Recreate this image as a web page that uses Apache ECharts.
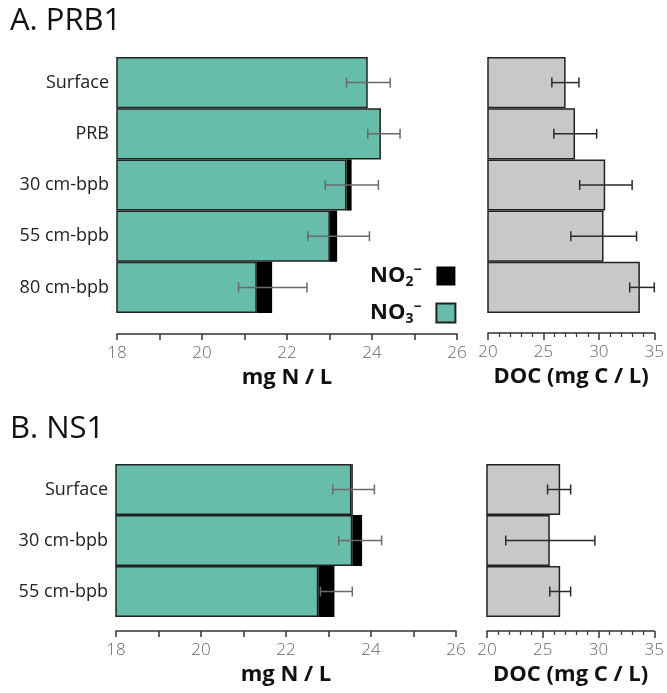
<!DOCTYPE html>
<html><head><meta charset="utf-8">
<script src="https://cdn.jsdelivr.net/npm/echarts@6/dist/echarts.min.js"></script>
<style>html,body{margin:0;padding:0;background:#fff}#c{width:667px;height:693px}</style>
</head><body><div id="c"></div>
<script>
// ---- Data ----
const catsA = ['Surface', 'PRB', '30 cm-bpb', '55 cm-bpb', '80 cm-bpb'];
const no3A = [23.90, 24.21, 23.40, 23.01, 21.29];
const no2A = [0.00, 0.00, 0.12, 0.17, 0.36];
const nLowA = [23.40, 23.90, 22.90, 22.49, 20.86];
const nHighA = [24.43, 24.66, 24.15, 23.94, 22.47];
const docA = [27.00, 27.85, 30.57, 30.42, 33.70];
const docLowA = [25.76, 25.94, 28.27, 27.47, 32.78];
const docHighA = [28.20, 29.80, 33.00, 33.40, 35.00];

const catsB = ['Surface', '30 cm-bpb', '55 cm-bpb'];
const no3B = [23.54, 23.56, 22.76];
const no2B = [0.03, 0.23, 0.38];
const nLowB = [23.10, 23.24, 22.81];
const nHighB = [24.08, 24.25, 23.56];
const docB = [26.56, 25.63, 26.56];
const docLowB = [25.43, 21.68, 25.63];
const docHighB = [27.50, 29.67, 27.50];

const nTicks = { min: 18, max: 26, interval: 2 };
const docTicks = { min: 20, max: 35, interval: 5 };

// ---- Styles ----
const FONT = 'Open Sans';
const TEAL = '#66bdaa';
const GRAY = '#c8c8c8';
const EDGE = '#222';

const chart = echarts.init(document.getElementById('c'), null, { renderer: 'canvas' });

function errRender(color) {
  return function (params, api) {
    const lo = api.coord([api.value(0), api.value(2)]);
    const hi = api.coord([api.value(1), api.value(2)]);
    const y = lo[1], h = 5;
    const st = { stroke: color, lineWidth: 1.5 };
    return {
      type: 'group',
      children: [
        { type: 'line', shape: { x1: lo[0], y1: y, x2: hi[0], y2: y }, style: st },
        { type: 'line', shape: { x1: lo[0], y1: y - h, x2: lo[0], y2: y + h }, style: st },
        { type: 'line', shape: { x1: hi[0], y1: y - h, x2: hi[0], y2: y + h }, style: st }
      ]
    };
  };
}
function errData(lo, hi) { return lo.map((v, i) => [v, hi[i], i]); }

const nameStyle = { fontFamily: FONT, fontSize: 22, fontWeight: 'bold', color: '#111' };
const tickLabel = { fontFamily: FONT, fontSize: 17, fontWeight: 300, color: '#666', margin: 11 };

function xAxisN(gridIndex, offset, name) {
  return {
    type: 'value', gridIndex, position: 'bottom', offset,
    min: nTicks.min, max: nTicks.max, interval: nTicks.interval,
    name, nameLocation: 'middle', nameGap: 33,
    nameTextStyle: nameStyle,
    axisLine: { show: true, lineStyle: { color: '#333', width: 1.5 } },
    axisTick: { show: true, inside: false, length: 6, lineStyle: { color: '#333', width: 1.5 } },
    minorTick: { show: true, splitNumber: 2, length: 6, lineStyle: { color: '#333', width: 1.5 } },
    axisLabel: tickLabel,
    splitLine: { show: false }, minorSplitLine: { show: false }
  };
}
function xAxisDoc(gridIndex, offset, name) {
  return {
    type: 'value', gridIndex, position: 'bottom', offset,
    min: docTicks.min, max: docTicks.max, interval: docTicks.interval,
    name, nameLocation: 'middle', nameGap: 33,
    nameTextStyle: nameStyle,
    axisLine: { show: true, lineStyle: { color: '#333', width: 1.5 } },
    axisTick: { show: true, inside: false, length: 7, lineStyle: { color: '#333', width: 1.5 } },
    minorTick: { show: true, splitNumber: 5, length: 4, lineStyle: { color: '#333', width: 1.2 } },
    axisLabel: tickLabel,
    splitLine: { show: false }, minorSplitLine: { show: false }
  };
}
function yAxisCat(gridIndex, data, showLabel) {
  return {
    type: 'category', gridIndex, data, inverse: true,
    axisLine: { show: false }, axisTick: { show: false },
    axisLabel: { show: showLabel, fontFamily: FONT, fontSize: 18, color: '#222', margin: 8 }
  };
}
const barBase = { type: 'bar', barCategoryGap: '0%' };

const option = {
  animation: false,
  backgroundColor: '#fff',
  title: [
    { text: 'A. PRB1', left: 5, top: 1, textStyle: { fontFamily: FONT, fontSize: 31, fontWeight: 'normal', color: '#111' } },
    { text: 'B. NS1', left: 5, top: 409, textStyle: { fontFamily: FONT, fontSize: 31, fontWeight: 'normal', color: '#111' } }
  ],
  legend: {
    orient: 'vertical', left: 365, top: 258, align: 'right', itemGap: 11,
    itemWidth: 19, itemHeight: 19, icon: 'rect',
    data: ['NO2', 'NO3'],
    formatter: function (n) { return '{a|NO}{b|' + n.slice(2) + '}{c|−}{s|}'; },
    textStyle: {
      rich: {
        a: { fontFamily: FONT, fontSize: 22, fontWeight: 'bold', color: '#111', lineHeight: 26 },
        b: { fontFamily: FONT, fontSize: 14, fontWeight: 'bold', color: '#111', lineHeight: 14, verticalAlign: 'bottom' },
        c: { fontFamily: FONT, fontSize: 14, fontWeight: 'bold', color: '#111', lineHeight: 14, verticalAlign: 'top' },
        s: { width: 10 }
      }
    }
  },
  grid: [
    { left: 117, top: 57, width: 340, height: 256 },
    { left: 488, top: 57, width: 170, height: 256 },
    { left: 116, top: 464, width: 340, height: 153 },
    { left: 487, top: 464, width: 170, height: 153 }
  ],
  xAxis: [
    xAxisN(0, 21, 'mg N / L'),
    xAxisDoc(1, 20, 'DOC (mg C / L)'),
    xAxisN(2, 14, 'mg N / L'),
    xAxisDoc(3, 14, 'DOC (mg C / L)')
  ],
  yAxis: [
    yAxisCat(0, catsA, true),
    yAxisCat(1, catsA, false),
    yAxisCat(2, catsB, true),
    yAxisCat(3, catsB, false)
  ],
  series: [
    Object.assign({}, barBase, { name: 'NO3', xAxisIndex: 0, yAxisIndex: 0, stack: 'a', data: no3A, itemStyle: { color: TEAL, borderColor: EDGE, borderWidth: 1.5 } }),
    Object.assign({}, barBase, { name: 'NO2', xAxisIndex: 0, yAxisIndex: 0, stack: 'a', data: no2A, itemStyle: { color: '#000', borderWidth: 0 } }),
    { type: 'custom', xAxisIndex: 0, yAxisIndex: 0, renderItem: errRender('#6a6a6a'), encode: { x: [0, 1], y: 2 }, data: errData(nLowA, nHighA), z: 10 },
    Object.assign({}, barBase, { name: 'DOC', xAxisIndex: 1, yAxisIndex: 1, data: docA, itemStyle: { color: GRAY, borderColor: EDGE, borderWidth: 1.5 } }),
    { type: 'custom', xAxisIndex: 1, yAxisIndex: 1, renderItem: errRender('#2a2a2a'), encode: { x: [0, 1], y: 2 }, data: errData(docLowA, docHighA), z: 10, clip: false },

    Object.assign({}, barBase, { name: 'NO3', xAxisIndex: 2, yAxisIndex: 2, stack: 'b', data: no3B, itemStyle: { color: TEAL, borderColor: EDGE, borderWidth: 1.5 } }),
    Object.assign({}, barBase, { name: 'NO2', xAxisIndex: 2, yAxisIndex: 2, stack: 'b', data: no2B, itemStyle: { color: '#000', borderWidth: 0 } }),
    { type: 'custom', xAxisIndex: 2, yAxisIndex: 2, renderItem: errRender('#6a6a6a'), encode: { x: [0, 1], y: 2 }, data: errData(nLowB, nHighB), z: 10 },
    Object.assign({}, barBase, { name: 'DOCB', xAxisIndex: 3, yAxisIndex: 3, data: docB, itemStyle: { color: GRAY, borderColor: EDGE, borderWidth: 1.5 } }),
    { type: 'custom', xAxisIndex: 3, yAxisIndex: 3, renderItem: errRender('#2a2a2a'), encode: { x: [0, 1], y: 2 }, data: errData(docLowB, docHighB), z: 10, clip: false }
  ]
};
chart.setOption(option);
</script></body></html>
